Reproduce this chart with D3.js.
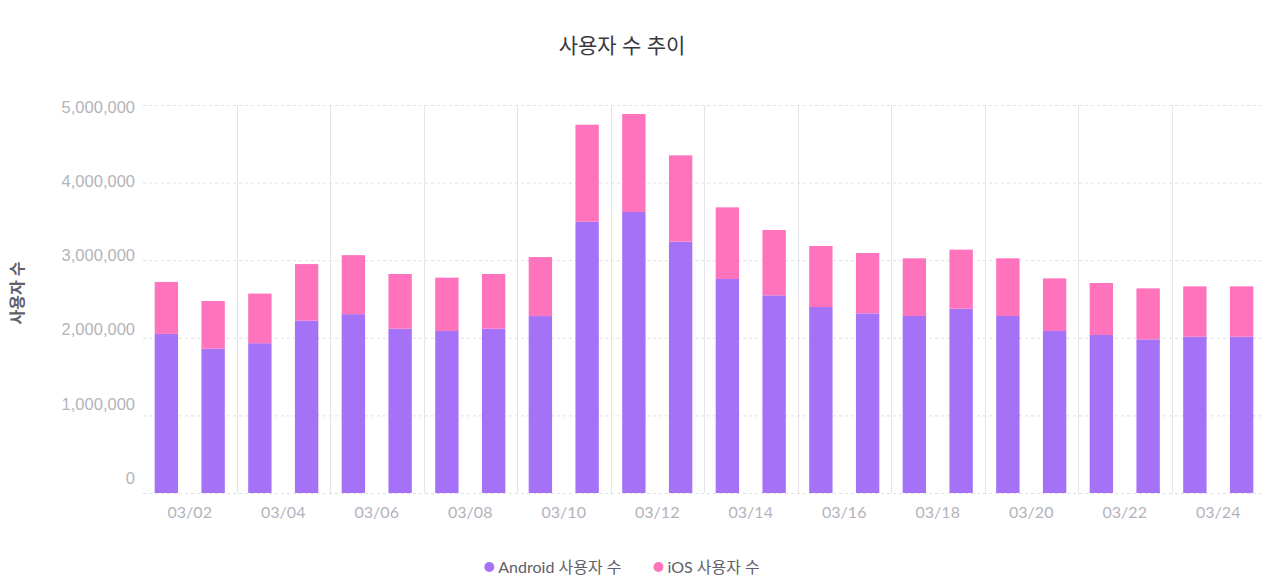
<!DOCTYPE html>
<html>
<head>
<meta charset="utf-8">
<script src="https://cdn.jsdelivr.net/npm/d3@7"></script>
<style>
  body { margin: 0; background: #fff; }
  svg { display: block; font-family: Lato, "Noto Sans CJK KR", sans-serif; }
</style>
</head>
<body>
<div id="chart"></div>
<script>
  "use strict";

  // daily data, 03/01 - 03/24
  var dates = ["03/01", "03/02", "03/03", "03/04", "03/05", "03/06", "03/07", "03/08",
               "03/09", "03/10", "03/11", "03/12", "03/13", "03/14", "03/15", "03/16",
               "03/17", "03/18", "03/19", "03/20", "03/21", "03/22", "03/23", "03/24"];
  var android = [2050000, 1860000, 1930000, 2220000, 2305000, 2117000, 2088000, 2117000,
                 2280000, 3497000, 3621000, 3239000, 2758000, 2547000, 2397000, 2315000,
                 2281000, 2375000, 2281000, 2088000, 2036000, 1980000, 2014000, 2014000];
  var ios = [670000, 614000, 640000, 730000, 760000, 705000, 687000, 705000,
             760000, 1249000, 1263000, 1112000, 923000, 842000, 786000, 778000,
             743000, 761000, 743000, 678000, 670000, 657000, 649000, 649000];
  var yTicks = [0, 1000000, 2000000, 3000000, 4000000, 5000000];
  var seriesNames = ["Android 사용자 수", "iOS 사용자 수"];
  var colors = ["#a571f7", "#ff73bd"];

  var width = 1280, height = 583;
  var margin = {top: 105, right: 15, bottom: 90, left: 143};

  var svg = d3.select("#chart").append("svg")
    .attr("width", width)
    .attr("height", height);

  var x = d3.scaleBand()
    .domain(dates)
    .range([margin.left, width - margin.right])
    .paddingInner(0.5)
    .paddingOuter(0.25);

  var y = d3.scaleLinear()
    .domain([0, 5000000])
    .range([height - margin.bottom, margin.top]);

  // tick labels sit a little above their grid lines, tighter spacing
  var yLabel = d3.scaleLinear()
    .domain([0, 5000000])
    .range([478, 107]);

  // start of each day's slot (band + its share of padding)
  var step = x.step();
  function slotStart(d) { return x(d) - step * 0.25; }

  // horizontal grid
  svg.append("g")
    .selectAll("line")
    .data(yTicks)
    .enter()
    .append("line")
    .attr("x1", margin.left)
    .attr("x2", width - margin.right)
    .attr("y1", function(d) { return y(d) + 0.5; })
    .attr("y2", function(d) { return y(d) + 0.5; })
    .attr("stroke", "#dfdfe8")
    .attr("stroke-dasharray", "3,3");

  // vertical grid every two days
  var oddDays = dates.filter(function(d, i) { return i > 0 && i % 2 === 0; });
  svg.append("g")
    .selectAll("line")
    .data(oddDays)
    .enter()
    .append("line")
    .attr("x1", function(d) { return Math.round(slotStart(d)) + 0.5; })
    .attr("x2", function(d) { return Math.round(slotStart(d)) + 0.5; })
    .attr("y1", y(5000000))
    .attr("y2", y(0))
    .attr("stroke", "#e4e4ea");

  // y axis labels
  var yAxis = d3.axisLeft(yLabel)
    .tickValues(yTicks)
    .tickSize(0)
    .tickPadding(8)
    .tickFormat(d3.format(","));
  var yg = svg.append("g")
    .attr("transform", "translate(" + margin.left + ",0)")
    .call(yAxis);
  yg.select(".domain").remove();
  yg.selectAll("text")
    .attr("fill", "#b3b3bc")
    .style("font-size", "16.5px");

  // x axis labels (between each pair of days)
  var evenDays = dates.filter(function(d, i) { return i % 2 === 1; });
  svg.append("g")
    .selectAll("text")
    .data(evenDays)
    .enter()
    .append("text")
    .attr("x", function(d) { return slotStart(d); })
    .attr("y", 518)
    .attr("text-anchor", "middle")
    .attr("fill", "#b3b3bc")
    .style("font-size", "16px")
    .text(function(d) { return d; });

  // stacked bars
  var rows = dates.map(function(d, i) {
    return {date: d, android: android[i], ios: ios[i]};
  });
  var stack = d3.stack().keys(["android", "ios"]);
  var layers = stack(rows);

  svg.append("g")
    .selectAll("g")
    .data(layers)
    .enter()
    .append("g")
    .attr("fill", function(d, i) { return colors[i]; })
    .selectAll("rect")
    .data(function(d) { return d; })
    .enter()
    .append("rect")
    .attr("x", function(d) { return x(d.data.date); })
    .attr("width", x.bandwidth())
    .attr("y", function(d) { return y(d[1]); })
    .attr("height", function(d) { return y(d[0]) - y(d[1]); });

  // title
  svg.append("text")
    .attr("x", 622)
    .attr("y", 53)
    .attr("text-anchor", "middle")
    .attr("fill", "#38383f")
    .style("font-size", "21px")
    .style("font-weight", "400")
    .text("사용자 수 추이");

  // y axis title
  svg.append("text")
    .attr("transform", "translate(23,293) rotate(-90)")
    .attr("text-anchor", "middle")
    .attr("fill", "#60606a")
    .style("font-size", "16px")
    .style("font-weight", "700")
    .text("사용자 수");

  // legend
  var legend = svg.append("g");
  var items = legend.selectAll("g")
    .data(seriesNames)
    .enter()
    .append("g");
  items.append("circle")
    .attr("r", 5)
    .attr("cy", 0)
    .attr("fill", function(d, i) { return colors[i]; });
  items.append("text")
    .attr("x", 9)
    .attr("dy", "0.35em")
    .attr("fill", "#60606a")
    .style("font-size", "16px")
    .text(function(d) { return d; });

  var gap = 37, offset = 0, widths = [];
  items.each(function() {
    widths.push(d3.select(this).select("text").node().getComputedTextLength() + 9);
  });
  var total = d3.sum(widths) + gap * (widths.length - 1) + 5;
  var startX = 622 - total / 2 + 5;
  items.attr("transform", function(d, i) {
    var tx = startX + offset;
    offset += widths[i] + gap;
    return "translate(" + tx + ",567)";
  });
</script>
</body>
</html>
